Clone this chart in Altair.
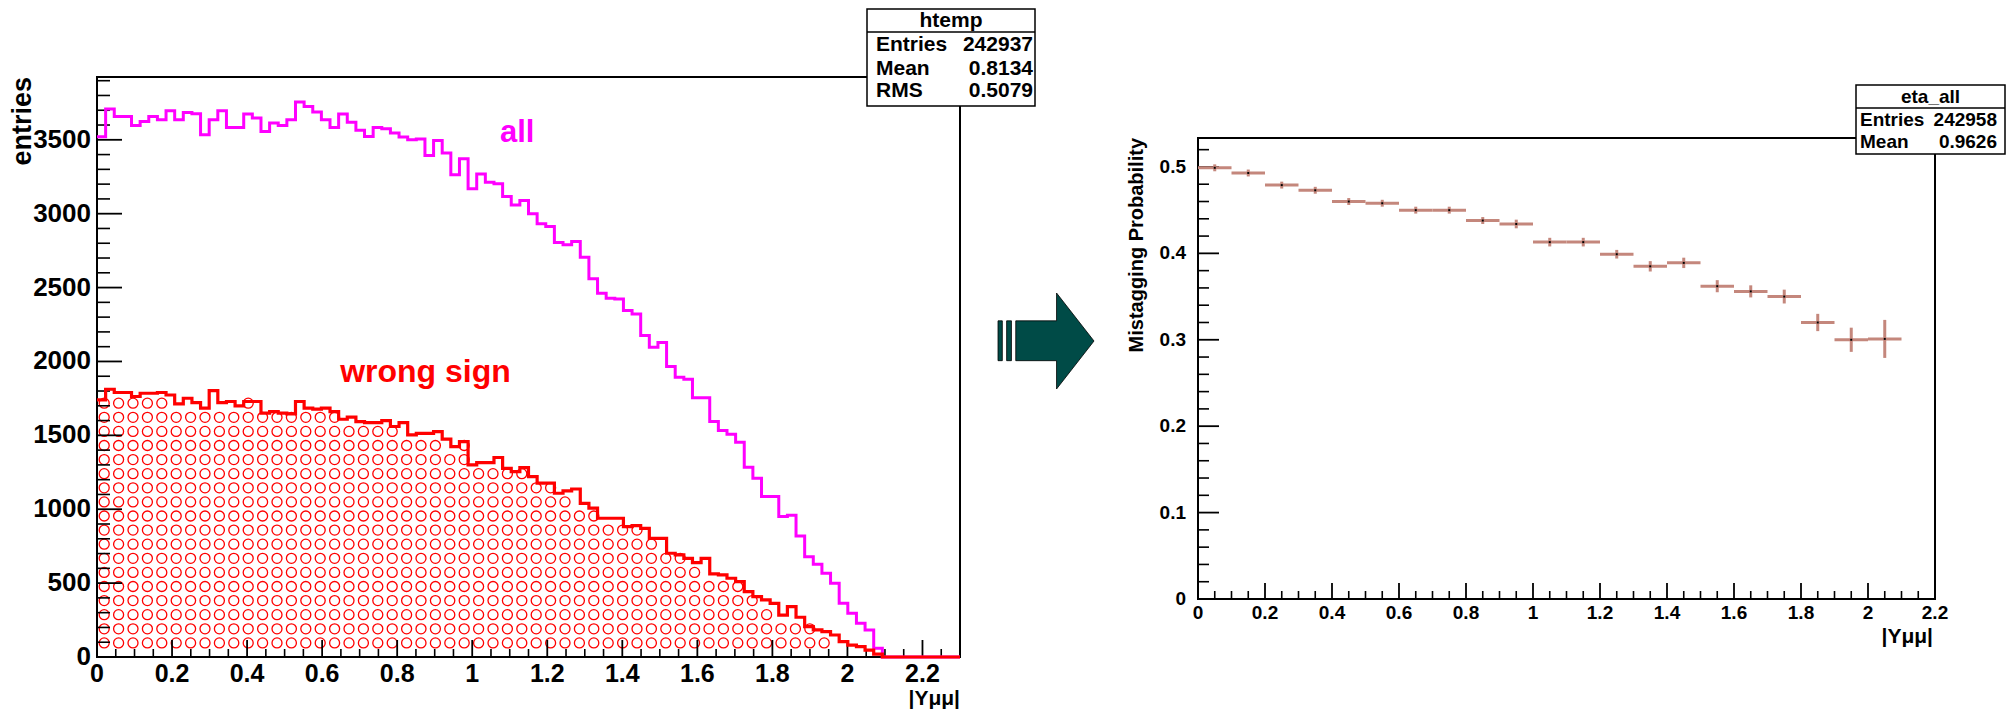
import altair as alt
import pandas as pd

# ---------------- values ----------------
BIN_WIDTH = 0.023            # 100 bins over |Y| in [0, 2.3]
all_counts = [3520, 3708, 3658, 3658, 3597, 3624, 3658, 3636, 3697, 3636,
              3685, 3676, 3534, 3636, 3697, 3584, 3584, 3674, 3647, 3557,
              3613, 3597, 3636, 3755, 3726, 3688, 3636, 3584, 3674, 3618,
              3564, 3523, 3584, 3574, 3546, 3519, 3501, 3505, 3394, 3496,
              3410, 3264, 3372, 3169, 3268, 3213, 3203, 3117, 3058, 3090,
              2999, 2932, 2914, 2805, 2789, 2812, 2706, 2559, 2462, 2428,
              2422, 2345, 2322, 2176, 2097, 2128, 1966, 1893, 1880, 1755,
              1755, 1593, 1532, 1508, 1453, 1284, 1210, 1086, 1086, 950,
              960, 819, 679, 627, 566, 499, 363, 296, 228, 183,
              59, 0, 0, 0, 0, 0, 0, 0, 0, 0]
wrong_counts = [1740, 1812, 1790, 1790, 1763, 1785, 1785, 1790, 1773, 1713,
                1751, 1722, 1684, 1803, 1722, 1729, 1699, 1729, 1729, 1650,
                1661, 1650, 1645, 1729, 1684, 1677, 1684, 1661, 1609, 1623,
                1593, 1586, 1586, 1600, 1560, 1586, 1503, 1514, 1514, 1525,
                1474, 1424, 1458, 1300, 1316, 1316, 1350, 1277, 1254, 1282,
                1221, 1176, 1176, 1108, 1124, 1137, 1040, 1007, 939, 939,
                939, 882, 889, 871, 803, 803, 702, 691, 668, 639,
                668, 562, 556, 533, 510, 442, 408, 386, 363, 284,
                341, 269, 205, 183, 172, 149, 104, 81, 70, 47,
                20, 0, 0, 0, 0, 0, 0, 0, 0, 0]

eta_centers = [0.05, 0.15, 0.25, 0.35, 0.45, 0.55, 0.65, 0.75, 0.85, 0.95,
               1.05, 1.15, 1.25, 1.35, 1.45, 1.55, 1.65, 1.75, 1.85, 1.95, 2.05]
eta_values = [0.499, 0.493, 0.479, 0.473, 0.460, 0.458, 0.450, 0.450, 0.438, 0.434,
              0.413, 0.413, 0.399, 0.385, 0.389, 0.362, 0.356, 0.350, 0.320, 0.300, 0.301]
eta_errors = [0.004, 0.004, 0.004, 0.004, 0.004, 0.004, 0.004, 0.004, 0.004, 0.005,
              0.005, 0.005, 0.005, 0.006, 0.006, 0.007, 0.007, 0.008, 0.010, 0.014, 0.022]
ETA_HALF_BIN = 0.05

left_y_ticks = [0, 500, 1000, 1500, 2000, 2500, 3000, 3500]
left_y_labels = ["0", "500", "1000", "1500", "2000", "2500", "3000", "3500"]
left_x_ticks = [0, 0.2, 0.4, 0.6, 0.8, 1.0, 1.2, 1.4, 1.6, 1.8, 2.0, 2.2]
left_x_labels = ["0", "0.2", "0.4", "0.6", "0.8", "1", "1.2", "1.4", "1.6", "1.8", "2", "2.2"]
right_y_ticks = [0, 0.1, 0.2, 0.3, 0.4, 0.5]
right_y_labels = ["0", "0.1", "0.2", "0.3", "0.4", "0.5"]
right_x_ticks = left_x_ticks
right_x_labels = left_x_labels

htemp_keys = ["Entries", "Mean", "RMS"]
htemp_vals = ["242937", "0.8134", "0.5079"]
eta_keys = ["Entries", "Mean"]
eta_vals = ["242958", "0.9626"]

# ---------------- layout ----------------
W, H = 1998, 702
FONT = "Liberation Sans"
L_X0, L_X1, L_Y0, L_Y1 = 89, 952, 649, 69        # left frame (px)
R_X0, R_X1, R_Y0, R_Y1 = 1190, 1927, 591, 130    # right frame (px)
L_XMAX, L_YMAX = 2.3, 3925
R_XMAX, R_YMAX = 2.2, 0.5335

LX = alt.Scale(domain=[0, L_XMAX], range=[L_X0, L_X1], nice=False, zero=False)
LY = alt.Scale(domain=[0, L_YMAX], range=[L_Y0, L_Y1], nice=False, zero=False)
RX = alt.Scale(domain=[0, R_XMAX], range=[R_X0, R_X1], nice=False, zero=False)
RY = alt.Scale(domain=[0, R_YMAX], range=[R_Y0, R_Y1], nice=False, zero=False)
PIX = alt.Scale(domain=[0, H], range=[0, H], nice=False, zero=False)

one = pd.DataFrame({"k": [0]})


def qx(f, s):
    return alt.X(f, type="quantitative", scale=s, axis=None)


def qy(f, s):
    return alt.Y(f, type="quantitative", scale=s, axis=None)


def minor_ticks(step, top, majors):
    out = []
    n = int(round(top / step))
    for i in range(n + 1):
        v = round(i * step, 6)
        if all(abs(v - m) > 1e-9 for m in majors):
            out.append(v)
    return out


layers = []

# ---- hatch of open circles inside the "wrong sign" histogram ----
px_per_x = (L_X1 - L_X0) / L_XMAX
px_per_y = (L_Y0 - L_Y1) / L_YMAX
dx = 14.4 / px_per_x
dy = 14.1 / px_per_y
rx = 5.0 / px_per_x
hx, hy = [], []
j = 0
while True:
    cx = dx * (j + 0.5)
    if cx > L_XMAX:
        break
    b0 = int(max(cx - rx * 0.6, 0) / BIN_WIDTH)
    b1 = int(min(cx + rx * 0.6, L_XMAX - 1e-9) / BIN_WIDTH)
    h = min(wrong_counts[b] if b < len(wrong_counts) else 0 for b in range(b0, b1 + 1))
    r = 1
    while dy * r <= h - 0.1 * dy:
        hx.append(cx)
        hy.append(dy * r)
        r += 1
    j += 1
hatch_df = pd.DataFrame({"x": hx, "y": hy})
layers.append(alt.Chart(hatch_df).mark_point(shape="circle", filled=False, color="#ff0000",
                                             size=100, strokeWidth=1.3, opacity=1)
              .encode(x=qx("x", LX), y=qy("y", LY)))

# ---- left frame ----
layers.append(alt.Chart(one).mark_rect(fillOpacity=0, stroke="black", strokeWidth=2)
              .encode(x=alt.value(L_X0), x2=alt.value(L_X1), y=alt.value(L_Y1), y2=alt.value(L_Y0)))

# ---- left ticks ----
ly_minor = minor_ticks(100, 3900, left_y_ticks)
lx_minor = minor_ticks(0.05, 2.3, left_x_ticks)
layers.append(alt.Chart(pd.DataFrame({"v": left_y_ticks})).mark_rule(color="black", strokeWidth=1.8)
              .encode(y=qy("v", LY), x=alt.value(L_X0), x2=alt.value(L_X0 + 25)))
layers.append(alt.Chart(pd.DataFrame({"v": ly_minor})).mark_rule(color="black", strokeWidth=1.6)
              .encode(y=qy("v", LY), x=alt.value(L_X0), x2=alt.value(L_X0 + 13)))
layers.append(alt.Chart(pd.DataFrame({"v": left_x_ticks})).mark_rule(color="black", strokeWidth=1.8)
              .encode(x=qx("v", LX), y=alt.value(L_Y0), y2=alt.value(L_Y0 - 17)))
layers.append(alt.Chart(pd.DataFrame({"v": lx_minor})).mark_rule(color="black", strokeWidth=1.6)
              .encode(x=qx("v", LX), y=alt.value(L_Y0), y2=alt.value(L_Y0 - 8)))

# ---- histograms (step outlines) ----
edges = [i * BIN_WIDTH for i in range(len(all_counts) + 1)]
step_df = pd.DataFrame({"x": edges,
                        "all": all_counts + [all_counts[-1]],
                        "wrong": wrong_counts + [wrong_counts[-1]]})
layers.append(alt.Chart(step_df).mark_line(interpolate="step-after", color="#ff00ff", strokeWidth=3)
              .encode(x=qx("x", LX), y=qy("all", LY)))
layers.append(alt.Chart(step_df).mark_line(interpolate="step-after", color="#ff0000", strokeWidth=3.2)
              .encode(x=qx("x", LX), y=qy("wrong", LY)))

# ---- left tick labels & titles ----
layers.append(alt.Chart(pd.DataFrame({"v": left_y_ticks, "t": left_y_labels}))
              .mark_text(align="right", baseline="middle", font=FONT, fontWeight="bold", fontSize=26)
              .encode(y=qy("v", LY), x=alt.value(L_X0 - 6), text="t:N"))
layers.append(alt.Chart(pd.DataFrame({"v": left_x_ticks, "t": left_x_labels}))
              .mark_text(align="center", baseline="middle", font=FONT, fontWeight="bold", fontSize=25)
              .encode(x=qx("v", LX), y=alt.value(L_Y0 + 17), text="t:N"))
layers.append(alt.Chart(one).mark_text(align="right", baseline="alphabetic", angle=270, font=FONT,
                                       fontWeight="bold", fontSize=27, color="black")
              .encode(x=alt.value(23), y=alt.value(L_Y1), text=alt.value("entries")))
layers.append(alt.Chart(one).mark_text(align="right", baseline="bottom", font=FONT,
                                       fontWeight="bold", fontSize=21, color="black")
              .encode(x=alt.value(L_X1), y=alt.value(701), text=alt.value("|Yμμ|")))

# ---- curve labels (placed in data coordinates) ----
layers.append(alt.Chart(pd.DataFrame({"x": [1.074], "y": [3487], "t": ["all"]}))
              .mark_text(align="left", baseline="alphabetic", font=FONT, fontWeight="bold",
                         fontSize=31, color="#ff00ff")
              .encode(x=qx("x", LX), y=qy("y", LY), text="t:N"))
layers.append(alt.Chart(pd.DataFrame({"x": [0.648], "y": [1858], "t": ["wrong sign"]}))
              .mark_text(align="left", baseline="alphabetic", font=FONT, fontWeight="bold",
                         fontSize=32, color="#ff0000")
              .encode(x=qx("x", LX), y=qy("y", LY), text="t:N"))

# ---- htemp stat box ----
HB_X0, HB_X1, HB_Y0, HB_Y1, HB_SEP = 859, 1027, 1, 98, 24
layers.append(alt.Chart(one).mark_rect(fill="white", stroke="black", strokeWidth=1.5)
              .encode(x=alt.value(HB_X0), x2=alt.value(HB_X1), y=alt.value(HB_Y0), y2=alt.value(HB_Y1)))
layers.append(alt.Chart(one).mark_rule(color="black", strokeWidth=1.5)
              .encode(x=alt.value(HB_X0), x2=alt.value(HB_X1), y=alt.value(HB_SEP)))
layers.append(alt.Chart(one).mark_text(align="center", baseline="middle", font=FONT, fontWeight="bold", fontSize=21)
              .encode(x=alt.value((HB_X0 + HB_X1) / 2), y=alt.value(13), text=alt.value("htemp")))
hrow_y = [37, 61, 83]
layers.append(alt.Chart(pd.DataFrame({"y": hrow_y, "t": htemp_keys}))
              .mark_text(align="left", baseline="middle", font=FONT, fontWeight="bold", fontSize=21)
              .encode(x=alt.value(868), text="t:N", y=qy("y", PIX)))
layers.append(alt.Chart(pd.DataFrame({"y": hrow_y, "t": htemp_vals}))
              .mark_text(align="right", baseline="middle", font=FONT, fontWeight="bold", fontSize=21)
              .encode(x=alt.value(1025), text="t:N", y=qy("y", PIX)))

# ---- arrow between the two panels ----
ARROW = ("M-1,-0.42 L-0.91,-0.42 L-0.91,0.41 L-1,0.41 Z "
         "M-0.82,-0.42 L-0.72,-0.42 L-0.72,0.41 L-0.82,0.41 Z "
         "M-0.63,-0.42 L0.22,-0.42 L0.22,-1 L1,0 L0.22,1 L0.22,0.41 L-0.63,0.41 Z")
layers.append(alt.Chart(one).mark_point(shape=ARROW, size=9216, filled=True, fill="#004b47",
                                        stroke="black", strokeWidth=0.8, opacity=1)
              .encode(x=alt.value(1038), y=alt.value(333)))

# ---- right frame & ticks ----
layers.append(alt.Chart(one).mark_rect(fillOpacity=0, stroke="black", strokeWidth=2)
              .encode(x=alt.value(R_X0), x2=alt.value(R_X1), y=alt.value(R_Y1), y2=alt.value(R_Y0)))
ry_minor = minor_ticks(0.02, 0.52, right_y_ticks)
rx_minor = minor_ticks(0.05, 2.2, right_x_ticks)
layers.append(alt.Chart(pd.DataFrame({"v": right_y_ticks})).mark_rule(color="black", strokeWidth=1.8)
              .encode(y=qy("v", RY), x=alt.value(R_X0), x2=alt.value(R_X0 + 21)))
layers.append(alt.Chart(pd.DataFrame({"v": ry_minor})).mark_rule(color="black", strokeWidth=1.6)
              .encode(y=qy("v", RY), x=alt.value(R_X0), x2=alt.value(R_X0 + 11)))
layers.append(alt.Chart(pd.DataFrame({"v": right_x_ticks})).mark_rule(color="black", strokeWidth=1.8)
              .encode(x=qx("v", RX), y=alt.value(R_Y0), y2=alt.value(R_Y0 - 16)))
layers.append(alt.Chart(pd.DataFrame({"v": rx_minor})).mark_rule(color="black", strokeWidth=1.6)
              .encode(x=qx("v", RX), y=alt.value(R_Y0), y2=alt.value(R_Y0 - 8)))

# ---- right data: error bars ----
eb = pd.DataFrame({"c": eta_centers, "v": eta_values, "e": eta_errors})
EBC = "#c4877c"
layers.append(alt.Chart(eb).transform_calculate(lo=f"datum.c - {ETA_HALF_BIN}", hi=f"datum.c + {ETA_HALF_BIN}")
              .mark_rule(color=EBC, strokeWidth=3)
              .encode(x=qx("lo", RX), x2="hi:Q", y=qy("v", RY)))
layers.append(alt.Chart(eb).transform_calculate(ylo="datum.v - datum.e", yhi="datum.v + datum.e")
              .mark_rule(color=EBC, strokeWidth=3)
              .encode(x=qx("c", RX), y=qy("ylo", RY), y2="yhi:Q"))
layers.append(alt.Chart(eb).mark_point(shape="square", filled=True, color="black", size=4, opacity=1)
              .encode(x=qx("c", RX), y=qy("v", RY)))

# ---- right labels & titles ----
layers.append(alt.Chart(pd.DataFrame({"v": right_y_ticks, "t": right_y_labels}))
              .mark_text(align="right", baseline="middle", font=FONT, fontWeight="bold", fontSize=19)
              .encode(y=qy("v", RY), x=alt.value(R_X0 - 12), text="t:N"))
layers.append(alt.Chart(pd.DataFrame({"v": right_x_ticks, "t": right_x_labels}))
              .mark_text(align="center", baseline="middle", font=FONT, fontWeight="bold", fontSize=19)
              .encode(x=qx("v", RX), y=alt.value(R_Y0 + 14), text="t:N"))
layers.append(alt.Chart(one).mark_text(align="right", baseline="alphabetic", angle=270, font=FONT,
                                       fontWeight="bold", fontSize=20, color="black")
              .encode(x=alt.value(1135), y=alt.value(R_Y1), text=alt.value("Mistagging Probability")))
layers.append(alt.Chart(one).mark_text(align="right", baseline="middle", font=FONT,
                                       fontWeight="bold", fontSize=21, color="black")
              .encode(x=alt.value(R_X1 - 2), y=alt.value(629), text=alt.value("|Yμμ|")))

# ---- eta_all stat box ----
EB_X0, EB_X1, EB_Y0, EB_Y1, EB_SEP = 1848, 1997, 77, 146, 100
layers.append(alt.Chart(one).mark_rect(fill="white", stroke="black", strokeWidth=1.5)
              .encode(x=alt.value(EB_X0), x2=alt.value(EB_X1), y=alt.value(EB_Y0), y2=alt.value(EB_Y1)))
layers.append(alt.Chart(one).mark_rule(color="black", strokeWidth=1.5)
              .encode(x=alt.value(EB_X0), x2=alt.value(EB_X1), y=alt.value(EB_SEP)))
layers.append(alt.Chart(one).mark_text(align="center", baseline="middle", font=FONT, fontWeight="bold", fontSize=19)
              .encode(x=alt.value((EB_X0 + EB_X1) / 2), y=alt.value(89), text=alt.value("eta_all")))
erow_y = [112, 134]
layers.append(alt.Chart(pd.DataFrame({"y": erow_y, "t": eta_keys}))
              .mark_text(align="left", baseline="middle", font=FONT, fontWeight="bold", fontSize=19)
              .encode(x=alt.value(1852), text="t:N", y=qy("y", PIX)))
layers.append(alt.Chart(pd.DataFrame({"y": erow_y, "t": eta_vals}))
              .mark_text(align="right", baseline="middle", font=FONT, fontWeight="bold", fontSize=19)
              .encode(x=alt.value(1989), text="t:N", y=qy("y", PIX)))

chart = (alt.layer(*layers)
         .resolve_scale(x="independent", y="independent")
         .properties(width=W, height=H, autosize=alt.AutoSizeParams(type="none"), padding=0,
                     background="white")
         .configure_view(strokeWidth=0))

chart.save("out.html", embed_options={"renderer": "svg", "actions": False})
